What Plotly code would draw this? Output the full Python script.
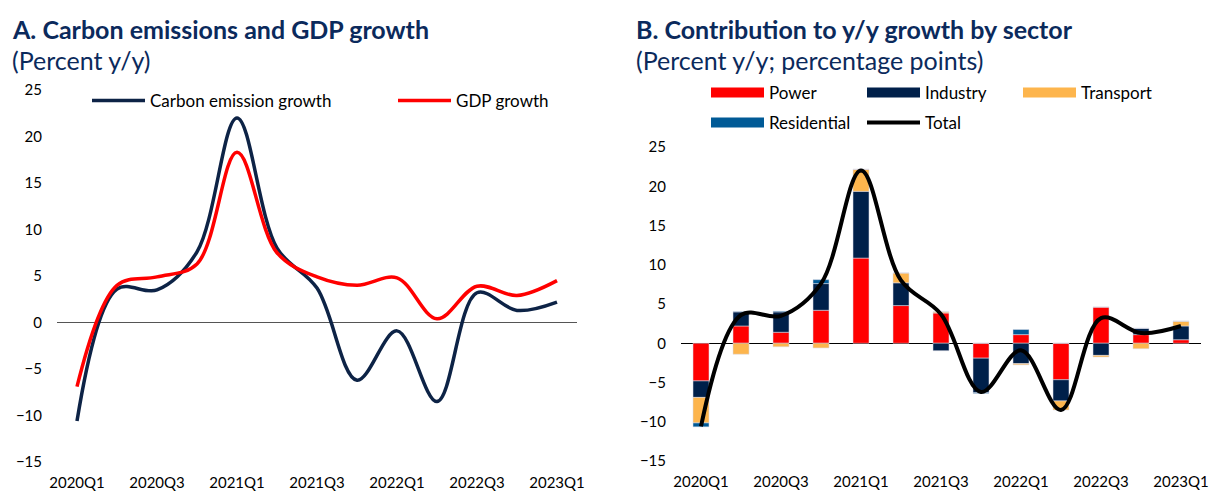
import plotly.graph_objects as go

quarters = ["2020Q1", "2020Q2", "2020Q3", "2020Q4", "2021Q1", "2021Q2", "2021Q3",
            "2021Q4", "2022Q1", "2022Q2", "2022Q3", "2022Q4", "2023Q1"]
tick_labels = quarters[::2]

carbon_growth = [-10.6, 3.6, 3.5, 7.6, 22.0, 8.0, 3.7, -6.2, -0.9, -8.5, 3.2, 1.3, 2.2]
gdp_growth = [-6.9, 4.0, 4.9, 6.3, 18.3, 7.5, 4.9, 4.0, 4.8, 0.4, 3.9, 2.9, 4.5]

power = [-4.8, 2.2, 1.4, 4.2, 10.85, 4.8, 3.85, -1.9, 1.1, -4.65, 4.6, 1.1, 0.45]
industry = [-2.1, 1.8, 2.6, 3.4, 8.5, 2.9, -0.95, -4.4, -2.6, -2.7, -1.55, 0.8, 1.75]
transport = [-3.25, -1.4, -0.45, -0.6, 2.8, 1.25, 0.15, 0.0, -0.15, -1.15, -0.2, -0.7, 0.6]
residential = [-0.5, 0.05, 0.1, 0.5, 0.0, 0.0, 0.0, -0.1, 0.65, 0.0, 0.0, 0.0, 0.0]
total = carbon_growth

W, H = 1217, 492
FONT = "Lato"
NAVY_T = "#0b2a5c"
C_NAVY = "#0d2346"
C_RED = "#ff0000"
C_IND = "#00204a"
C_TRN = "#fdb54d"
C_RES = "#005a96"

def px_x(p):
    return p / W

def px_y(p):
    return 1 - p / H

fig = go.Figure()

fig.add_trace(go.Scatter(x=quarters, y=carbon_growth, name="Carbon emission growth",
                         mode="lines", line=dict(color=C_NAVY, width=3.5, shape="spline", smoothing=1.0),
                         xaxis="x", yaxis="y", legend="legend"))
fig.add_trace(go.Scatter(x=quarters, y=gdp_growth, name="GDP growth",
                         mode="lines", line=dict(color=C_RED, width=3.5, shape="spline", smoothing=1.0),
                         xaxis="x", yaxis="y", legend="legend"))

bar_line = dict(color="rgba(220,220,230,0.9)", width=0.6)
sectors = [("Power", power, C_RED, "legend2"),
           ("Industry", industry, C_IND, "legend2"),
           ("Transport", transport, C_TRN, "legend2"),
           ("Residential", residential, C_RES, "legend3")]
for name, vals, col, leg in sectors:
    fig.add_trace(go.Bar(x=quarters, y=vals, name=name, marker=dict(color=col, line=bar_line),
                         xaxis="x2", yaxis="y2", showlegend=False, legendgroup=name))
# legend swatches (wide rectangles) for the sector bars
for name, vals, col, leg in sectors:
    fig.add_trace(go.Scatter(x=[None], y=[None], name=name, mode="lines",
                             line=dict(color=col, width=11), xaxis="x2", yaxis="y2",
                             legend=leg, legendgroup=name))
fig.add_trace(go.Scatter(x=quarters, y=total, name="Total", mode="lines",
                         line=dict(color="black", width=4, shape="spline", smoothing=1.0),
                         xaxis="x2", yaxis="y2", legend="legend3"))

tickfont = dict(family=FONT, size=15, color="black")
xcommon = dict(type="category", categoryorder="array", categoryarray=quarters,
               tickmode="array", tickvals=tick_labels, ticktext=tick_labels,
               showgrid=False, showline=False, zeroline=False, ticks="",
               tickfont=tickfont, range=[-0.5, 12.5], fixedrange=True, automargin=False,
               ticklabelstandoff=10)
ycommon = dict(range=[-15, 25], tickmode="array", tickvals=[-15, -10, -5, 0, 5, 10, 15, 20, 25],
               showgrid=False, showline=False, ticks="", tickfont=tickfont,
               zeroline=True, zerolinewidth=1.2, ticklabelstandoff=14, fixedrange=True,
               automargin=False)

legfont = dict(family=FONT, size=17, color="black")
legcommon = dict(orientation="h", xanchor="left", yanchor="middle", font=legfont,
                 entrywidthmode="pixels", itemwidth=53, bgcolor="rgba(0,0,0,0)",
                 traceorder="normal", borderwidth=0)

fig.update_layout(
    template="none",
    width=W, height=H,
    margin=dict(l=0, r=0, t=0, b=0, pad=0, autoexpand=False),
    paper_bgcolor="white", plot_bgcolor="white",
    barmode="relative", bargap=0.6,
    xaxis=dict(xcommon, domain=[px_x(57), px_x(577)], anchor="y"),
    yaxis=dict(ycommon, domain=[px_y(462), px_y(90)], anchor="x", zerolinecolor="#555555"),
    xaxis2=dict(xcommon, domain=[px_x(681), px_x(1201)], anchor="y2"),
    yaxis2=dict(ycommon, domain=[px_y(461), px_y(147)], anchor="x2", zerolinecolor="black"),
    legend=dict(legcommon, x=px_x(87), y=px_y(101), entrywidth=238),
    legend2=dict(legcommon, x=px_x(706), y=px_y(93), entrywidth=88),
    legend3=dict(legcommon, x=px_x(706), y=px_y(123), entrywidth=88),
    showlegend=True,
)

annos = [
    ("<b>A. Carbon emissions and GDP growth</b>", 10, 29, 25),
    ("(Percent y/y)", 10, 60, 25),
    ("<b>B. Contribution to y/y growth by sector</b>", 634, 29, 25),
    ("(Percent y/y; percentage points)", 634, 60, 25),
]
for text, x, y, s in annos:
    fig.add_annotation(text=text, x=px_x(x), y=px_y(y), xref="paper", yref="paper",
                       xanchor="left", yanchor="middle", showarrow=False,
                       font=dict(family=FONT, size=s, color=NAVY_T))

fig.write_html("out.html", config={"displayModeBar": False, "staticPlot": False},
               post_script="document.body.style.margin='0px';")
